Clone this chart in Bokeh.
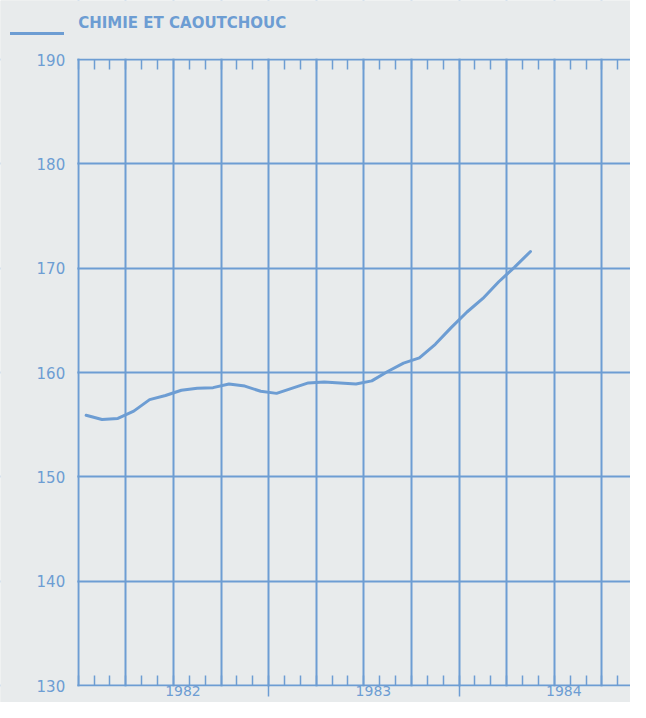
from bokeh.plotting import figure
from bokeh.models import (Range1d, LinearAxis, FixedTicker, Legend, LegendItem, BoxAnnotation, Label)
from bokeh.embed import file_html
from bokeh.resources import INLINE

# ---- data (months counted from January 1982; value at mid-month) ----
series_name = "CHIMIE ET CAOUTCHOUC"
month_pos = [0.5, 1.5, 2.5, 3.5, 4.5, 5.5, 6.5, 7.5, 8.5, 9.5, 10.5, 11.5,
             12.5, 13.5, 14.5, 15.5, 16.5, 17.5, 18.5, 19.5, 20.5, 21.5, 22.5, 23.5,
             24.5, 25.5, 26.5, 27.5, 28.5]
values = [155.9, 155.5, 155.6, 156.3, 157.4, 157.8, 158.3, 158.5, 158.55, 158.9, 158.7, 158.2,
          158.0, 158.5, 159.0, 159.1, 159.0, 158.9, 159.2, 160.1, 160.9, 161.4, 162.7, 164.3,
          165.8, 167.1, 168.7, 170.1, 171.6]
years = [1982, 1983, 1984]
y_ticks = [130, 140, 150, 160, 170, 180, 190]

BLUE = "#6d9dd3"
BG = "#e8ebec"
FONT = "DejaVu Sans"
LINE_W = 3

first_year = years[0]
month_ticks = list(range(0, 12 * len(years) + 1))
quarter_ticks = month_ticks[::3]
year_bounds = [12 * (y - first_year) for y in years[1:]]
year_label_pos = [12 * (y - first_year) + 6.6 for y in years]
y_lo, y_hi = y_ticks[0], y_ticks[-1]
x_lo = quarter_ticks[0]

# ---- layout geometry (pixels) ----
W, H = 630, 702
PX_PER_MONTH = 15.87
X0_PX = 77.7                 # screen x of the first month line
Y_HI_PX, Y_LO_PX = 59, 685   # screen y of the 190 and 130 lines
TITLE_Y_PX = 22.5            # screen y of the legend text centre
PX_PER_UNIT = (Y_LO_PX - Y_HI_PX) / (y_hi - y_lo)

x_start = x_lo - X0_PX / PX_PER_MONTH
x_end = x_lo + (W - X0_PX) / PX_PER_MONTH
y_end = y_hi + Y_HI_PX / PX_PER_UNIT
y_start = y_lo - (H - Y_LO_PX) / PX_PER_UNIT

p = figure(width=W, height=H, output_backend="svg", toolbar_location=None,
           x_range=Range1d(x_start, x_end), y_range=Range1d(y_start, y_end),
           x_axis_location=None, y_axis_location=None,
           min_border_left=0, min_border_right=0, min_border_top=0, min_border_bottom=0,
           background_fill_color=BG, border_fill_color=BG, outline_line_color=None)

# grids (quarters / every 10 points)
p.xgrid.ticker = FixedTicker(ticks=quarter_ticks)
p.ygrid.ticker = FixedTicker(ticks=y_ticks)
for g in (p.xgrid, p.ygrid):
    g.grid_line_color = BLUE
    g.grid_line_width = 2

# paper-coloured masks so the grid stops at the chart box
half_x = 1.0 / PX_PER_MONTH
half_y = 1.0 / PX_PER_UNIT
for kw in (dict(right=x_lo - half_x), dict(bottom=y_hi + half_y), dict(top=y_lo - half_y)):
    p.add_layout(BoxAnnotation(fill_color=BG, fill_alpha=1, line_color=None, level="glyph", **kw))

# left axis with value labels
ax_left = LinearAxis(ticker=FixedTicker(ticks=y_ticks), fixed_location=x_lo, axis_line_color=None,
                     major_tick_line_color=None, minor_tick_line_color=None,
                     major_tick_out=0, major_tick_in=0, major_label_standoff=13,
                     major_label_text_font=FONT, major_label_text_font_size="15px",
                     major_label_text_color=BLUE)
p.add_layout(ax_left, "left")

# top month ticks
ax_top = LinearAxis(ticker=FixedTicker(ticks=[], minor_ticks=month_ticks), fixed_location=y_hi,
                    axis_line_color=None, major_tick_line_color=None,
                    minor_tick_line_color=BLUE, minor_tick_line_width=1.5,
                    minor_tick_in=10, minor_tick_out=0, major_label_text_color=None)
p.add_layout(ax_top, "above")

# bottom month ticks + year boundary ticks
ax_bot = LinearAxis(ticker=FixedTicker(ticks=year_bounds, minor_ticks=month_ticks), fixed_location=y_lo,
                    axis_line_color=None, major_tick_line_color=BLUE, major_tick_line_width=1.5,
                    major_tick_in=0, major_tick_out=11,
                    minor_tick_line_color=BLUE, minor_tick_line_width=1.5,
                    minor_tick_in=10, minor_tick_out=0, major_label_text_color=None)
p.add_layout(ax_bot, "below")

# year labels
ax_year = LinearAxis(ticker=FixedTicker(ticks=year_label_pos, minor_ticks=[]), fixed_location=y_lo,
                     axis_line_color=None, major_tick_line_color=None, minor_tick_line_color=None,
                     major_tick_out=0, major_tick_in=0, major_label_standoff=0,
                     major_label_overrides={pos: str(y) for pos, y in zip(year_label_pos, years)},
                     major_label_text_font=FONT, major_label_text_font_size="14px",
                     major_label_text_color=BLUE)
p.add_layout(ax_year, "below")

r = p.line(month_pos, values, line_color=BLUE, line_width=LINE_W, line_join="round", line_cap="round")

# legend key line (top-left) and its caption, set a little higher as in the original
legend = Legend(items=[LegendItem(label="", renderers=[r])], location=(10, 659),
                glyph_width=54, glyph_height=20, label_height=20, label_standoff=0,
                padding=0, margin=0, spacing=0, border_line_color=None, background_fill_alpha=0,
                label_text_font_size="1px")
p.add_layout(legend)

caption = Label(x=x_lo, y=y_end - TITLE_Y_PX / PX_PER_UNIT, text=series_name,
                text_align="left", text_baseline="middle",
                text_font=FONT, text_font_style="bold", text_font_size="15px", text_color=BLUE)
p.add_layout(caption)

open("out.html", "w").write(file_html(p, INLINE))
